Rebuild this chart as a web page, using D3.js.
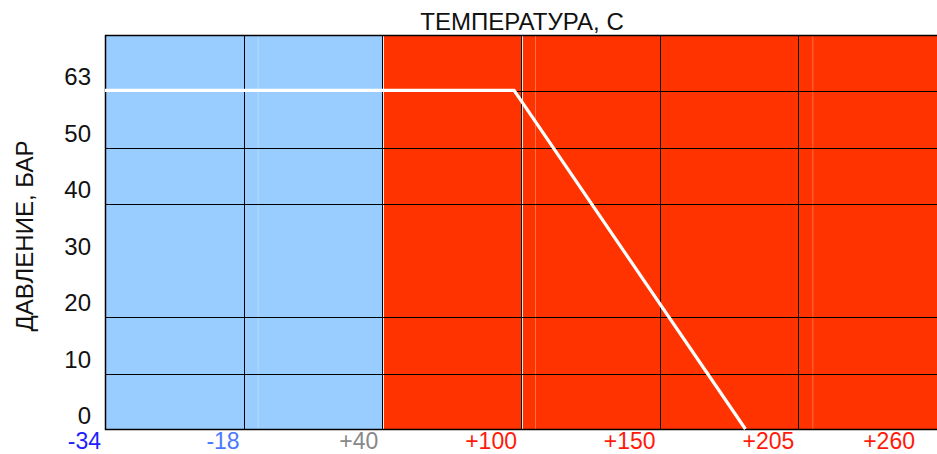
<!DOCTYPE html>
<html>
<head>
<meta charset="utf-8">
<script src="https://cdn.jsdelivr.net/npm/d3@7"></script>
<style>
  body { margin: 0; background: #fff; }
  text { font-family: "Liberation Sans", Arial, sans-serif; }
</style>
</head>
<body>
<div id="chart"></div>
<script>
// data
var tempTicks = [-34, -18, 40, 100, 150, 205, 260];
var tempLabels = ["-34", "-18", "+40", "+100", "+150", "+205", "+260"];
var pressureLabels = ["63", "50", "40", "30", "20", "10", "0"];
var lineTemp = [-34, 97, 184];
var linePressure = [63, 63, 0];
var coldLimit = 40;

// label colours by tick
var labelColors = ["#1f1fff", "#4a78ff", "#888888", "#ff1a0a", "#ff1a0a", "#ff1a0a", "#ff1a0a"];

var W = 937, H = 454;
var margin = {top: 35, right: 0, bottom: 24, left: 105},
    width = W - margin.left - margin.right,
    height = H - margin.top - margin.bottom;

var svg = d3.select("#chart")
    .append("svg")
    .attr("width", W)
    .attr("height", H)
    .append("g")
    .attr("transform", "translate(" + margin.left + "," + margin.top + ")");

// x: tick temperatures are evenly spaced, piecewise linear between them
var step = width / 6;
var x = d3.scaleLinear()
    .domain(tempTicks)
    .range(tempTicks.map(function(d, i) { return i * step; }));

// y: bands for the labels, linear for the curve
var yBand = d3.scaleBand()
    .domain(pressureLabels)
    .range([0, height]);
var y = d3.scaleLinear()
    .domain([0, 63])
    .range([height, yBand.bandwidth()]);

// background zones
svg.append("rect")
    .attr("x", x(tempTicks[0]))
    .attr("y", 0)
    .attr("width", x(coldLimit) - x(tempTicks[0]))
    .attr("height", height)
    .attr("fill", "#99ccff");
svg.append("rect")
    .attr("x", x(coldLimit))
    .attr("y", 0)
    .attr("width", width - x(coldLimit))
    .attr("height", height)
    .attr("fill", "#ff3300");

// faint light lines beside some gridlines
[-18, 100, 205].forEach(function(t) {
    svg.append("line")
        .attr("x1", x(t) + 14.5).attr("x2", x(t) + 14.5)
        .attr("y1", 0).attr("y2", height)
        .attr("stroke", "#fff").attr("stroke-opacity", 0.3);
});
[40, 100].forEach(function(t) {
    svg.append("line")
        .attr("x1", Math.round(x(t)) + 1.5).attr("x2", Math.round(x(t)) + 1.5)
        .attr("y1", 0).attr("y2", height)
        .attr("stroke", "#fff").attr("stroke-opacity", 0.9);
});

// horizontal gridlines (no line between 30 and 20 in the original)
svg.selectAll(".hgrid")
    .data(pressureLabels.filter(function(d) { return d != "63" && d != "20"; }))
    .enter()
    .append("line")
    .attr("x1", 0).attr("x2", width)
    .attr("y1", function(d) { return Math.round(yBand(d)) + 0.5; })
    .attr("y2", function(d) { return Math.round(yBand(d)) + 0.5; })
    .attr("stroke", "#000");

// vertical gridlines
svg.selectAll(".vgrid")
    .data(tempTicks.slice(1, 6))
    .enter()
    .append("line")
    .attr("x1", function(d) { return Math.round(x(d)) + 0.5; })
    .attr("x2", function(d) { return Math.round(x(d)) + 0.5; })
    .attr("y1", 0).attr("y2", height)
    .attr("stroke", "#000");

// frame: top, left, bottom
svg.append("path")
    .attr("d", "M" + width + ",0.5H0.5V" + (height - 0.5) + "H" + width)
    .attr("fill", "none")
    .attr("stroke", "#000")
    .attr("stroke-width", 1.5);

// curve
var line = d3.line()
    .x(function(d, i) { return x(lineTemp[i]); })
    .y(function(d, i) { return y(linePressure[i]) - 1; });
svg.append("path")
    .datum(lineTemp)
    .attr("d", line)
    .attr("fill", "none")
    .attr("stroke", "#fff")
    .attr("stroke-width", 3.2);

// x labels
svg.selectAll(".xlab")
    .data(tempTicks)
    .enter()
    .append("text")
    .attr("x", function(d, i) { return i == tempTicks.length - 1 ? x(d) - 22 : x(d) - 4; })
    .attr("y", height + 19)
    .attr("text-anchor", "end")
    .style("font-size", "23px")
    .attr("fill", function(d, i) { return labelColors[i]; })
    .text(function(d, i) { return tempLabels[i]; });

// y labels
svg.selectAll(".ylab")
    .data(pressureLabels)
    .enter()
    .append("text")
    .attr("x", -14)
    .attr("y", function(d) { return yBand(d) + yBand.bandwidth() - 6; })
    .attr("text-anchor", "end")
    .style("font-size", "24px")
    .attr("fill", "#111")
    .text(function(d) { return d; });

// titles
svg.append("text")
    .attr("x", x(100) + 1)
    .attr("y", -5)
    .attr("text-anchor", "middle")
    .style("font-size", "24px")
    .attr("fill", "#111")
    .text("ТЕМПЕРАТУРА, С");

svg.append("text")
    .attr("transform", "translate(" + (33 - margin.left) + "," + (236 - margin.top) + ")rotate(-90)")
    .attr("text-anchor", "middle")
    .style("font-size", "24px")
    .attr("fill", "#111")
    .text("ДАВЛЕНИЕ, БАР");
</script>
</body>
</html>
